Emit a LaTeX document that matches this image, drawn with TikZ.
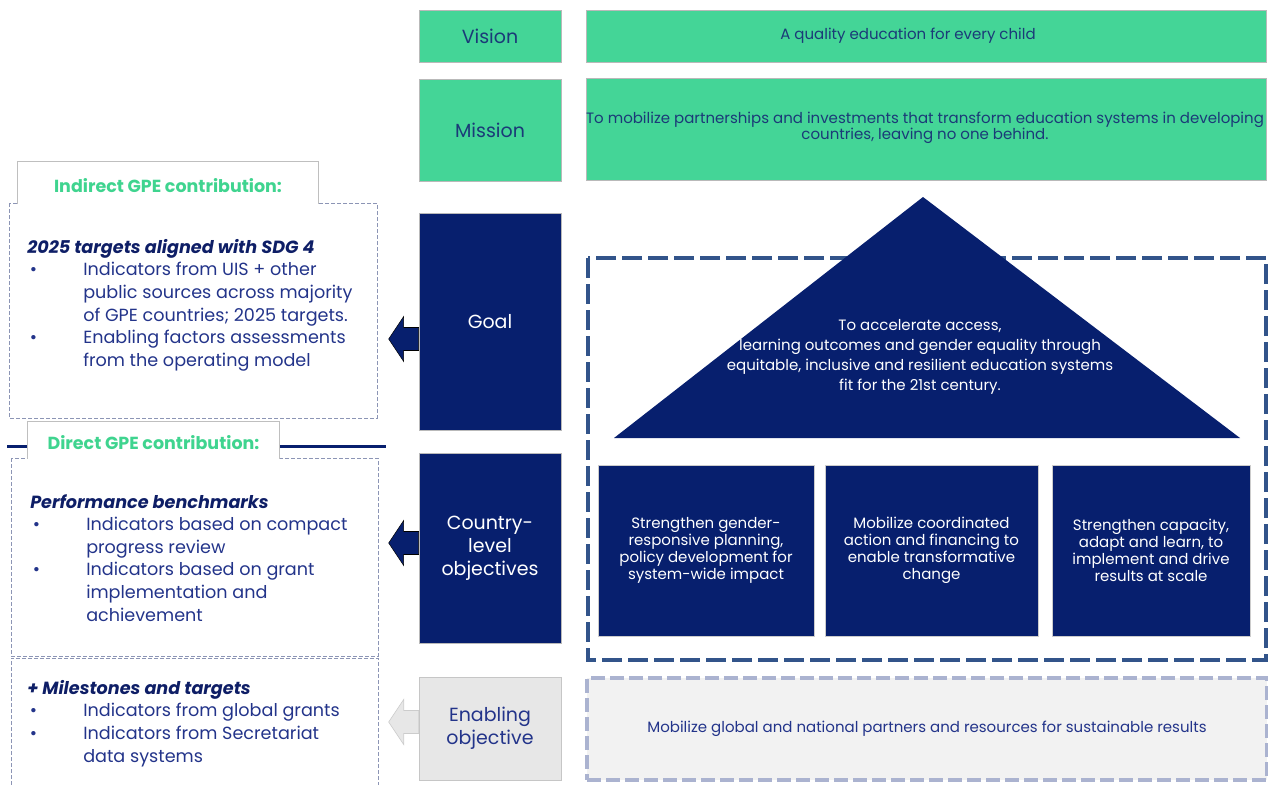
\documentclass[tikz,border=0pt]{standalone}
\usepackage{fontspec}
\setmainfont{Poppins}
\usetikzlibrary{positioning,calc}

\definecolor{gpegreen}{HTML}{44D597}
\definecolor{gpetitle}{HTML}{3FD48F}
\definecolor{gpenavy}{HTML}{071F6E}
\definecolor{labeltext}{HTML}{1B3A78}
\definecolor{bodytext}{HTML}{23348A}
\definecolor{headtext}{HTML}{0E1E66}
\definecolor{framedash}{HTML}{32548A}
\definecolor{lightdash}{HTML}{ABB3D0}
\definecolor{leftdash}{HTML}{8C95B5}
\definecolor{greyfill}{HTML}{E7E7E7}
\definecolor{lightfill}{HTML}{F2F2F2}

\def\pxu{0.75pt}
\newcommand\blt{\makebox[42pt][l]{\hspace{2pt}\textbullet}}
\newcommand\ind{\hspace*{42pt}}

\tikzset{
  labelbox/.style={draw=gray!55, line width=0.5pt, inner sep=0pt, align=center,
    font=\fontsize{14.25}{17.25}\selectfont},
  greenbox/.style={labelbox, fill=gpegreen, text=labeltext},
  navybox/.style={labelbox, fill=gpenavy, text=white},
  greybox/.style={labelbox, fill=greyfill, draw=gray!45, text=bodytext},
  smalltext/.style={font=\fontsize{11.25}{12}\selectfont},
  objbox/.style={fill=gpenavy, draw=gray!40, line width=0.4pt, text=white, align=center,
    inner sep=0pt, font=\fontsize{11.25}{12.75}\selectfont},
  bigdash/.style={draw=framedash, line width=3pt, dash pattern=on 15pt off 4.5pt},
  leftbox/.style={draw=leftdash, line width=0.6pt, dash pattern=on 3pt off 1.5pt},
  tabnode/.style={fill=white, inner sep=0pt, text=gpetitle,
    font=\fontsize{13.1}{15}\selectfont\bfseries},
  tabline/.style={draw=gray!50, line width=0.6pt},
  lefttext/.style={anchor=north west, align=left, inner sep=0pt, text=bodytext,
    font=\fontsize{13.2}{16.95}\selectfont},
}
\newcommand\blockarrow[3][fill=gpenavy]{%
  \filldraw[#1] ($(#2.west)+(0,#3-11.5)$) -- ++(-15,0) -- ++(0,-11) -- ++(-15,22.5)
    -- ++(15,22.5) -- ++(0,-11) -- ++(15,0) -- cycle;}

\begin{document}
\begin{tikzpicture}[x=0.75pt, y=-0.75pt]
  \useasboundingbox (0,0) rectangle (1268,785);

  % Middle column
  \node[greenbox, minimum width=142*\pxu, minimum height=52*\pxu] (vision) at (490,36) {Vision};
  \node[greenbox, minimum width=142*\pxu, minimum height=102*\pxu] (mission) at (490,130) {Mission};
  \node[navybox, minimum width=142*\pxu, minimum height=217*\pxu] (goal) at (490,321.5) {Goal};
  \node[navybox, minimum width=142*\pxu, minimum height=190*\pxu] (country) at (490,548) {Country-\\level\\objectives};
  \node[greybox, minimum width=142*\pxu, minimum height=103*\pxu] (enabling) at (490,728.5) {Enabling\\objective};

  % Right column
  \node[greenbox, smalltext, minimum width=680*\pxu, minimum height=52*\pxu] (visiontext) at (926,36)
    {A quality education for every child\hspace*{27pt}};
  \node[greenbox, minimum width=680*\pxu, minimum height=102*\pxu] (missionbox) at (926,129) {};
  \node[smalltext, text=labeltext, align=center] (missiontext) at (925,128)
    {To mobilize partnerships and investments that transform education systems in developing\\
     countries, leaving no one behind.};

  \draw[bigdash] (588,258) rectangle (1266,660);
  \fill[gpenavy] (614,438) -- (923,197) -- (1240,438) -- cycle;
  \node[text=white, align=center, font=\fontsize{11.25}{15}\selectfont] (goaltext) at (920,357)
    {To accelerate access,\\ learning outcomes and gender equality through\\
     equitable, inclusive and resilient education systems\\ fit for the 21st century.};

  \node[objbox, minimum width=216*\pxu, minimum height=171*\pxu] (obj1) at (706,550.5)
    {Strengthen gender-\\responsive planning,\\policy development for\\system-wide impact};
  \node[objbox, minimum width=213*\pxu, minimum height=171*\pxu] (obj2) at (931.5,550.5)
    {Mobilize coordinated\\action and financing to\\enable transformative\\change};
  \node[objbox, minimum width=198*\pxu, minimum height=171*\pxu] (obj3) at (1151,550.5)
    {Strengthen capacity,\\adapt and learn, to\\implement and drive\\results at scale};

  \node[smalltext, fill=lightfill, draw=lightdash, line width=3pt, dash pattern=on 10.5pt off 3.75pt,
    text=bodytext, minimum width=680*\pxu, minimum height=102*\pxu] (enablingtext) at (927,729)
    {Mobilize global and national partners and resources for sustainable results};

  % Left column
  \draw[leftbox] (9,203) rectangle (377,418);
  \node[tabnode, minimum width=300*\pxu, minimum height=42*\pxu, text height=15pt, text depth=1pt]
    (indirecttab) at (168,183) {Indirect GPE contribution:};
  \draw[tabline] (indirecttab.south west) -- (indirecttab.north west) -- (indirecttab.north east)
    -- (indirecttab.south east);
  \node[lefttext] (indirect) at (27,239)
    {{\bfseries\itshape\color{headtext}2025 targets aligned with SDG 4}\\
     \blt Indicators from UIS + other\\
     \ind public sources across majority\\
     \ind of GPE countries; 2025 targets.\\
     \blt Enabling factors assessments\\
     \ind from the operating model};

  \draw[gpenavy, line width=2.25pt] (7,446) -- (386,446);
  \draw[leftbox] (11,458) rectangle (378,656);
  \node[tabnode, minimum width=251*\pxu, minimum height=37*\pxu, text height=15pt, text depth=1pt]
    (directtab) at (153.5,440) {Direct GPE contribution:};
  \draw[tabline] (directtab.south west) -- (directtab.north west) -- (directtab.north east)
    -- (directtab.south east);
  \node[lefttext] (direct) at (30,494)
    {{\bfseries\itshape\color{headtext}Performance benchmarks}\\
     \blt Indicators based on compact\\
     \ind progress review\\
     \blt Indicators based on grant\\
     \ind implementation and\\
     \ind achievement};

  \draw[leftbox] (11,785) -- (11,658) -- (378,658) -- (378,785);
  \node[lefttext] (milestones) at (27,680)
    {{\bfseries\itshape\color{headtext}+ Milestones and targets}\\
     \blt Indicators from global grants\\
     \blt Indicators from Secretariat\\
     \ind data systems};

  % Connect the boxes
  \blockarrow{goal}{17.5}
  \blockarrow{country}{-5}
  \blockarrow[fill=greyfill, draw=gray!40, line width=0.5pt]{enabling}{-6.5}
\end{tikzpicture}
\end{document}
